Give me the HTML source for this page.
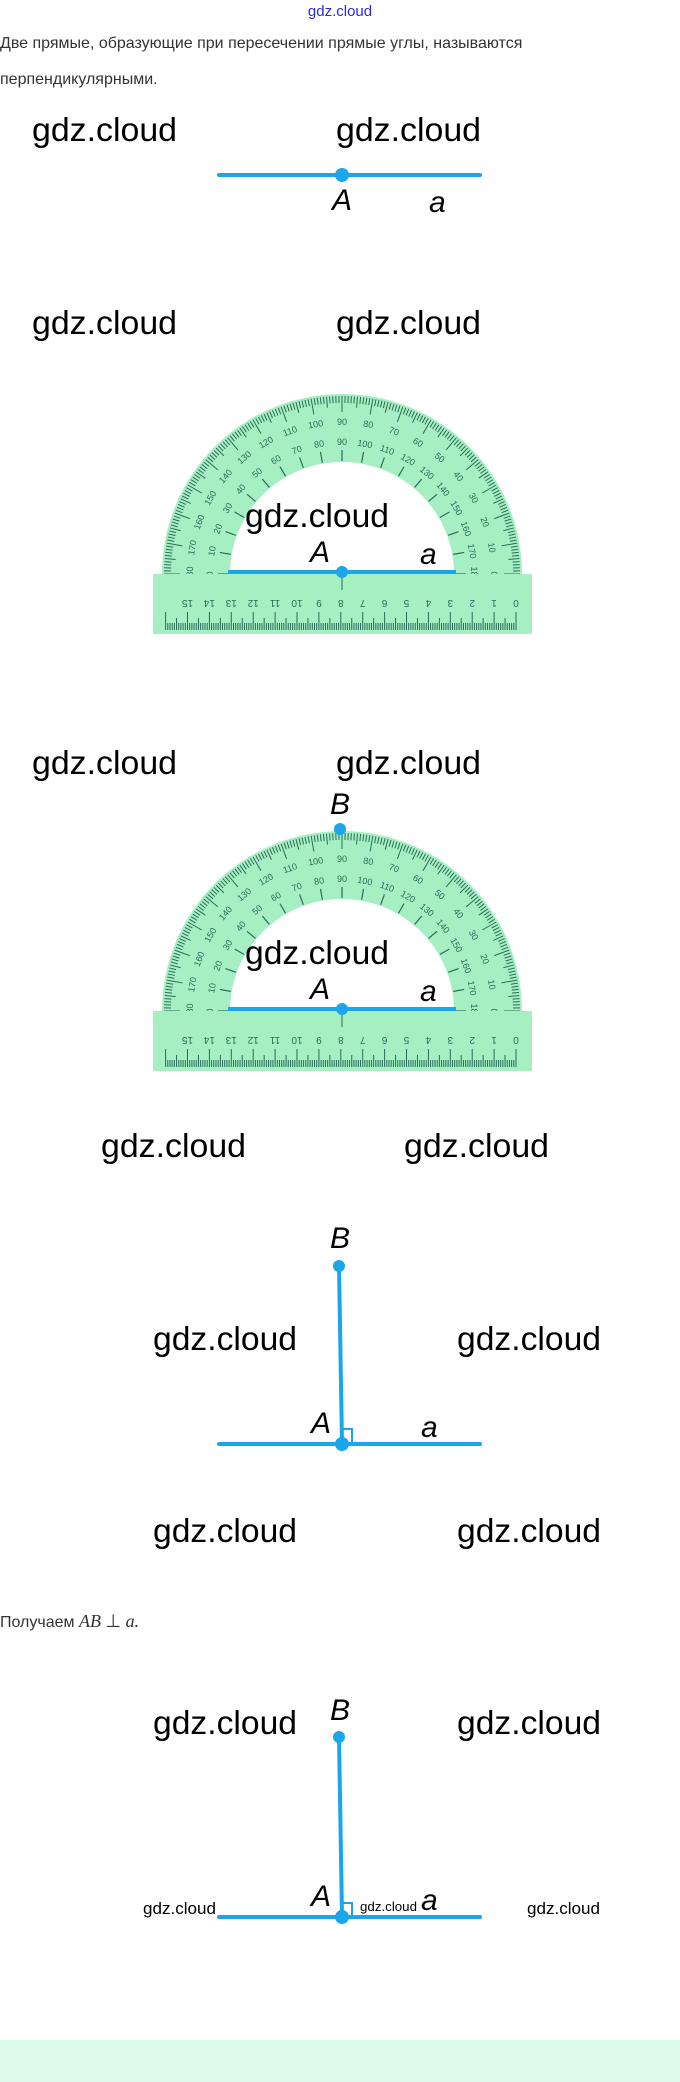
<!DOCTYPE html>
<html><head><meta charset="utf-8"><style>
html,body{margin:0;padding:0;background:#fff;width:680px;height:2082px;overflow:hidden}
svg{display:block}
.w{font-family:"Liberation Sans",sans-serif;font-size:33px;fill:#000}
.lab{font-family:"Liberation Sans",sans-serif;font-style:italic;font-size:30px;fill:#000}
.t{font-family:"Liberation Sans",sans-serif;font-size:16px;fill:#333}
</style></head><body>
<svg id="s" width="680" height="2082" viewBox="0 0 680 2082" xmlns="http://www.w3.org/2000/svg">
<defs>
<g id="prot">
  <path d="M162,574 A180,180 0 0 1 522,574 Z" fill="#a6efc3"/>
  <g id="ticks" stroke="#2b6b58" stroke-width="1"></g>
  <g id="nums" font-family="Liberation Sans,sans-serif" font-size="9" fill="#2b6b58" text-anchor="middle"></g>
  <path d="M230,574 A112,112 0 0 1 454,574 Z" fill="#fff"/>
  <g id="inner" stroke="#2b6b58" stroke-width="1.2"></g>
  <rect x="153" y="574" width="379" height="60" fill="#a6efc3"/>
  <g id="rticks" stroke="#2b6b58" stroke-width="1"></g>
  <g id="rnums" font-family="Liberation Sans,sans-serif" font-size="10" fill="#2b6b58" text-anchor="middle"></g>
  <line x1="342" y1="574" x2="342" y2="590" stroke="#2b6b58"/>
  <line x1="228" y1="572" x2="456" y2="572" stroke="#1ba6ea" stroke-width="4"/>
  <circle cx="342" cy="572" r="6" fill="#1ba6ea"/>
  <text class="w" x="245" y="527" textLength="144" lengthAdjust="spacingAndGlyphs">gdz.cloud</text>
  <text class="lab" x="310" y="562">A</text>
  <text class="lab" x="420" y="564">a</text>
</g>
</defs>

<text x="340" y="16" text-anchor="middle" font-family="Liberation Sans,sans-serif" font-size="15" fill="#2a2ad0">gdz.cloud</text>
<text class="t" x="0" y="48">Две прямые, образующие при пересечении прямые углы, называются</text>
<text class="t" x="0" y="84">перпендикулярными.</text>

<!-- section 1 -->
<text class="w" x="32" y="141" textLength="145" lengthAdjust="spacingAndGlyphs">gdz.cloud</text>
<text class="w" x="336" y="141" textLength="145" lengthAdjust="spacingAndGlyphs">gdz.cloud</text>
<line x1="219" y1="175" x2="480" y2="175" stroke="#1ba6ea" stroke-width="4" stroke-linecap="round"/>
<circle cx="342" cy="175" r="7" fill="#1ba6ea"/>
<text class="lab" x="332" y="210">A</text>
<text class="lab" x="429" y="212">a</text>

<!-- section 2 -->
<text class="w" x="32" y="334" textLength="145" lengthAdjust="spacingAndGlyphs">gdz.cloud</text>
<text class="w" x="336" y="334" textLength="145" lengthAdjust="spacingAndGlyphs">gdz.cloud</text>
<use href="#prot"/>

<!-- section 3 -->
<text class="w" x="32" y="774" textLength="145" lengthAdjust="spacingAndGlyphs">gdz.cloud</text>
<text class="w" x="336" y="774" textLength="145" lengthAdjust="spacingAndGlyphs">gdz.cloud</text>
<text class="lab" x="330" y="814">B</text>
<use href="#prot" transform="translate(0,437)"/>
<circle cx="340" cy="829" r="6" fill="#1ba6ea"/>

<!-- section 4 -->
<text class="w" x="101" y="1157" textLength="145" lengthAdjust="spacingAndGlyphs">gdz.cloud</text>
<text class="w" x="404" y="1157" textLength="145" lengthAdjust="spacingAndGlyphs">gdz.cloud</text>
<text class="lab" x="330" y="1248">B</text>
<line x1="339" y1="1266" x2="342" y2="1443" stroke="#1ba6ea" stroke-width="4"/>
<circle cx="339" cy="1266" r="6" fill="#1ba6ea"/>
<text class="w" x="153" y="1350" textLength="144" lengthAdjust="spacingAndGlyphs">gdz.cloud</text>
<text class="w" x="457" y="1350" textLength="144" lengthAdjust="spacingAndGlyphs">gdz.cloud</text>
<line x1="219" y1="1444" x2="480" y2="1444" stroke="#1ba6ea" stroke-width="4" stroke-linecap="round"/>
<path d="M343,1429 H352 V1442" fill="none" stroke="#1ba6ea" stroke-width="2"/>
<circle cx="342" cy="1444" r="7" fill="#1ba6ea"/>
<text class="lab" x="311" y="1433">A</text>
<text class="lab" x="421" y="1437">a</text>
<text class="w" x="153" y="1542" textLength="144" lengthAdjust="spacingAndGlyphs">gdz.cloud</text>
<text class="w" x="457" y="1542" textLength="144" lengthAdjust="spacingAndGlyphs">gdz.cloud</text>

<text class="t" x="0" y="1627">Получаем <tspan font-family="Liberation Serif,serif" font-style="italic" font-size="18">AB</tspan> <tspan font-family="Liberation Serif,serif" font-size="18">⊥</tspan> <tspan font-family="Liberation Serif,serif" font-style="italic" font-size="18">a.</tspan></text>

<!-- section 5 -->
<text class="w" x="153" y="1734" textLength="144" lengthAdjust="spacingAndGlyphs">gdz.cloud</text>
<text class="w" x="457" y="1734" textLength="144" lengthAdjust="spacingAndGlyphs">gdz.cloud</text>
<text class="lab" x="330" y="1720">B</text>
<line x1="339" y1="1737" x2="342" y2="1916" stroke="#1ba6ea" stroke-width="4"/>
<circle cx="339" cy="1737" r="6" fill="#1ba6ea"/>
<line x1="219" y1="1917" x2="480" y2="1917" stroke="#1ba6ea" stroke-width="4" stroke-linecap="round"/>
<path d="M343,1903 H352 V1915" fill="none" stroke="#1ba6ea" stroke-width="2"/>
<circle cx="342" cy="1917" r="7" fill="#1ba6ea"/>
<text class="lab" x="311" y="1906">A</text>
<text class="lab" x="421" y="1910">a</text>
<text x="143" y="1914" font-family="Liberation Sans,sans-serif" font-size="17" fill="#000" textLength="73" lengthAdjust="spacingAndGlyphs">gdz.cloud</text>
<text x="360" y="1911" font-family="Liberation Sans,sans-serif" font-size="13" fill="#000" textLength="57" lengthAdjust="spacingAndGlyphs">gdz.cloud</text>
<text x="527" y="1914" font-family="Liberation Sans,sans-serif" font-size="17" fill="#000" textLength="73" lengthAdjust="spacingAndGlyphs">gdz.cloud</text>

<rect x="0" y="2040" width="680" height="42" fill="#dcfce8"/>
</svg>
<script>
(function(){
var NS="http://www.w3.org/2000/svg",cx=342,cy=574;
function el(p,n,a,t){var e=document.createElementNS(NS,n);for(var k in a)e.setAttribute(k,a[k]);if(t!=null)e.textContent=t;document.getElementById(p).appendChild(e);}
for(var d=0;d<=180;d++){var r=Math.PI*d/180,c=Math.cos(r),s=Math.sin(r);
 var L=d%10==0?16:(d%5==0?11:7);
 el("ticks","line",{x1:cx+c*178,y1:cy-s*178,x2:cx+c*(178-L),y2:cy-s*(178-L)});}
for(var d=0;d<=180;d+=10){var r=Math.PI*d/180,c=Math.cos(r),s=Math.sin(r);
 var rot=90-d;
 el("nums","text",{x:cx+c*152,y:cy-s*152+3,transform:"rotate("+rot+" "+(cx+c*152)+" "+(cy-s*152)+")"},String(d));
 el("nums","text",{x:cx+c*132,y:cy-s*132+3,transform:"rotate("+rot+" "+(cx+c*132)+" "+(cy-s*132)+")"},String(180-d));
 el("inner","line",{x1:cx+c*113,y1:cy-s*113,x2:cx+c*124,y2:cy-s*124});}
for(var m=0;m<=160;m++){var x=516-m*2.19;var L=m%10==0?18:(m%5==0?12:7);
 el("rticks","line",{x1:x,y1:630,x2:x,y2:630-L});}
for(var n=0;n<=15;n++){var x=516-n*21.9;
 el("rnums","text",{x:x,y:592,transform:"rotate(180 "+x+" 596)"},String(n));}
})();
</script>
</body></html>
